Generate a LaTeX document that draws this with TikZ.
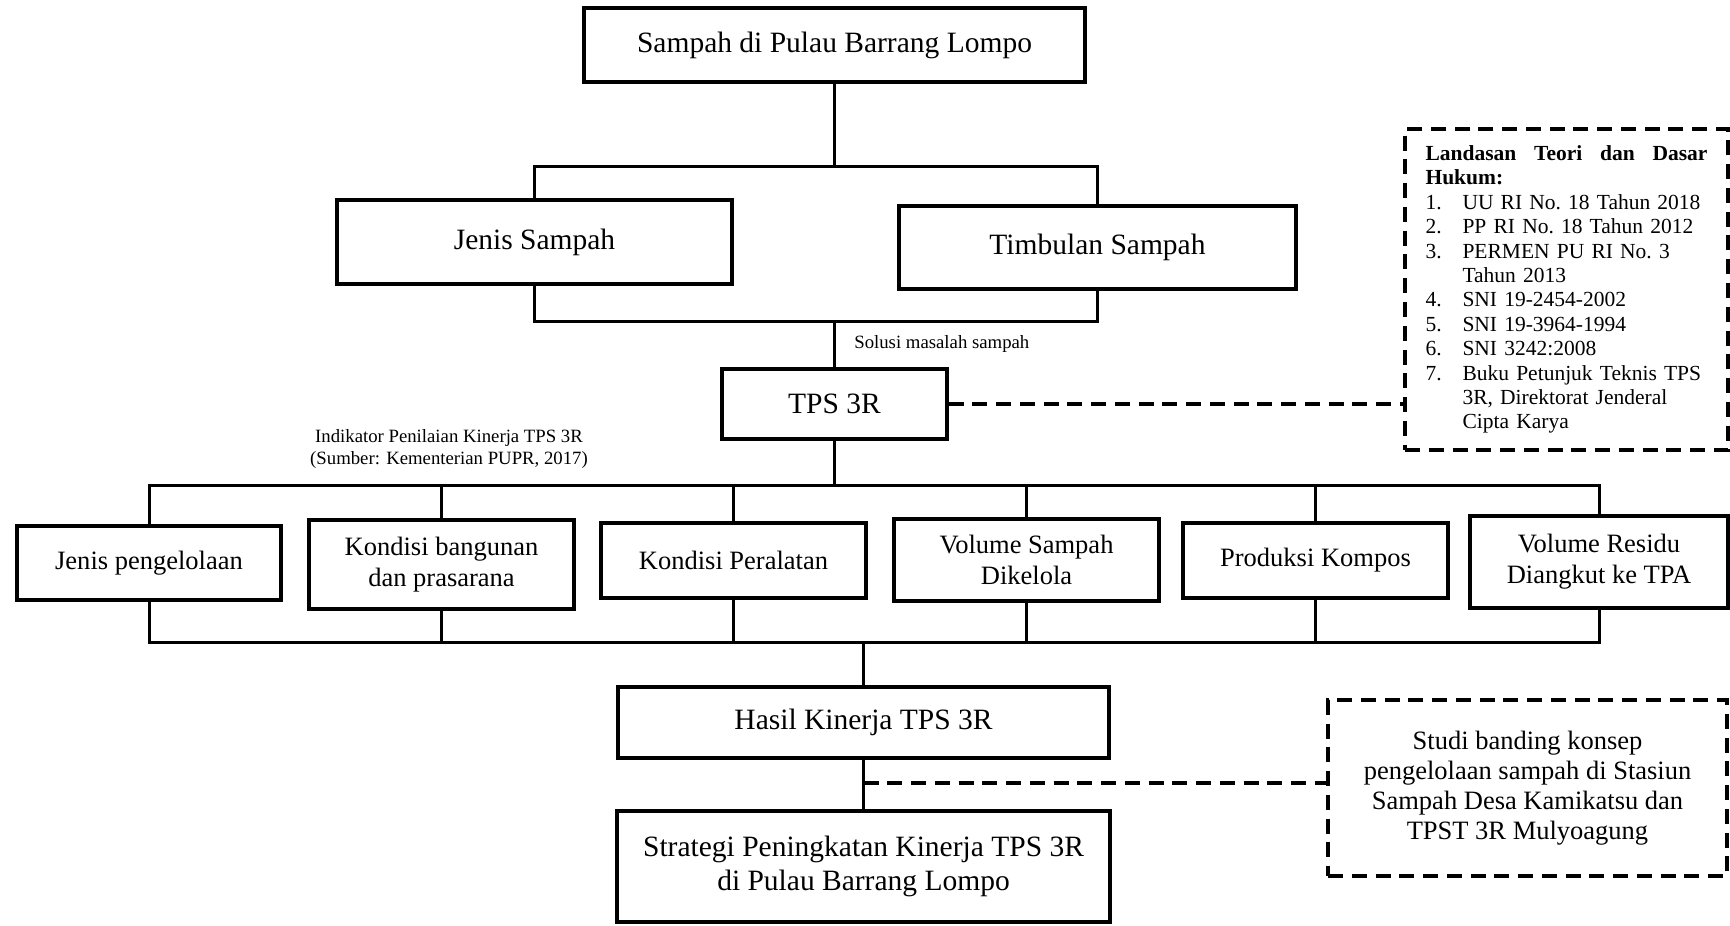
\documentclass[tikz,border=0pt]{standalone}
\usepackage{fontspec}
\setmainfont{Liberation Serif}
\usetikzlibrary{positioning}

\begin{document}
\begin{tikzpicture}[
		x=0.4pt,
		y=-0.4pt,
		font=\fontsize{11.8}{13.5}\selectfont,
		box/.style={draw, line width=1.3pt, align=center, inner sep=2pt},
		rowbox/.style={box, minimum width=106pt, font=\fontsize{10.6}{12.5}\selectfont},
		dbox/.style={draw, line width=1.5pt, dash pattern=on 6pt off 3.5pt},
		link/.style={line width=1.2pt, line cap=rect},
		dlink/.style={line width=1.5pt, dash pattern=on 6pt off 3.5pt},
		small/.style={font=\fontsize{7.5}{8.8}\selectfont, align=center}
		]
		\useasboundingbox (0,0) rectangle (1730,925);
		
		% Top part
		\node[box, minimum width=200.4pt, minimum height=29.6pt] (top) at (834.5,45) {Sampah di Pulau Barrang Lompo};
		\node[box, minimum width=158pt, minimum height=33.6pt] (jenis) at (534.5,242) {Jenis Sampah};
		\node[box, minimum width=158.8pt, minimum height=33.2pt] (timb) at (1097.5,247.5) {Timbulan Sampah};
		\node[box, minimum width=90pt, minimum height=28pt] (tps) at (834.5,404) {TPS 3R};
		
		\coordinate (topbar) at (834.5,167);
		\coordinate (midbar) at (834.5,321);
		\draw[link] (top.south) -- (topbar);
		\draw[link] (jenis.north) |- (topbar) -| (timb.north);
		\draw[link] (jenis.south) |- (midbar) -| (timb.south);
		\draw[link] (midbar) -- node[right=4pt, small] {Solusi masalah sampah} (tps.north);
		
		% Legal basis
		\node[dbox, text width=112.8pt, inner xsep=8.2pt, minimum height=128.4pt, align=left,
			font=\fontsize{8.6}{9.76}\selectfont] (land) at (1566.5,289.5) {%
			\makebox[112.8pt][l]{\bfseries Landasan\hfill Teori\hfill dan\hfill Dasar}\\
			\textbf{Hukum:}\\
			\makebox[14.8pt][l]{1.}UU RI No.\ 18 Tahun 2018\\
			\makebox[14.8pt][l]{2.}PP RI No.\ 18 Tahun 2012\\
			\makebox[14.8pt][l]{3.}PERMEN PU RI No.\ 3\\
			\hspace*{14.8pt}Tahun 2013\\
			\makebox[14.8pt][l]{4.}SNI 19-2454-2002\\
			\makebox[14.8pt][l]{5.}SNI 19-3964-1994\\
			\makebox[14.8pt][l]{6.}SNI 3242:2008\\
			\makebox[14.8pt][l]{7.}Buku Petunjuk Teknis TPS\\
			\hspace*{14.8pt}3R, Direktorat Jenderal\\
			\hspace*{14.8pt}Cipta Karya};
		\draw[dlink] (tps.east) -- (tps.east -| land.west);
		
		% Indicators
		\node[small] (indik) at (449,449) {Indikator Penilaian Kinerja TPS 3R\\(Sumber: Kementerian PUPR, 2017)};
		\node[rowbox, minimum width=105.6pt, minimum height=29.6pt] (b1) at (149,563) {Jenis pengelolaan};
		\node[rowbox, minimum height=35.6pt] (b2) at (441.5,564.5) {Kondisi bangunan\\dan prasarana};
		\node[rowbox, minimum height=30pt] (b3) at (733.5,560.5) {Kondisi Peralatan};
		\node[rowbox, minimum height=32.8pt] (b4) at (1026.5,560) {Volume Sampah\\Dikelola};
		\node[rowbox, minimum height=30pt] (b5) at (1315.5,560.5) {Produksi Kompos};
		\node[rowbox, minimum width=103.2pt, minimum height=36.8pt] (b6) at (1599,562) {Volume Residu\\Diangkut ke TPA};
		
		\coordinate (rowtop) at (834.5,485);
		\coordinate (rowbot) at (863.5,642);
		\draw[link] (tps.south) -- (rowtop);
		\draw[link] (b1.north |- rowtop) -- (b6.north |- rowtop);
		\draw[link] (b1.south |- rowbot) -- (b6.south |- rowbot);
		\foreach \i in {1,...,6}{
			\draw[link] (b\i.north |- rowtop) -- (b\i.north);
			\draw[link] (b\i.south) -- (b\i.south |- rowbot);
		}
		
		% Result and strategy
		\node[box, minimum width=196.4pt, minimum height=28.4pt] (hasil) at (863.5,722.5) {Hasil Kinerja TPS 3R};
		\node[box, minimum width=197.2pt, minimum height=44.4pt] (strat) at (863.5,866.5) {Strategi Peningkatan Kinerja TPS 3R\\di Pulau Barrang Lompo};
		\node[dbox, minimum width=159.6pt, minimum height=70.4pt, align=center,
			font=\fontsize{10.6}{12}\selectfont] (studi) at (1527.5,788) {Studi banding konsep\\pengelolaan sampah di Stasiun\\Sampah Desa Kamikatsu dan\\TPST 3R Mulyoagung};
		
		\draw[link] (rowbot) -- (hasil.north);
		\draw[link] (hasil.south) -- (strat.north);
		\coordinate (fork) at (863.5,783);
		\draw[dlink] (fork) -- (fork -| studi.west);
		
	\end{tikzpicture}
\end{document}
